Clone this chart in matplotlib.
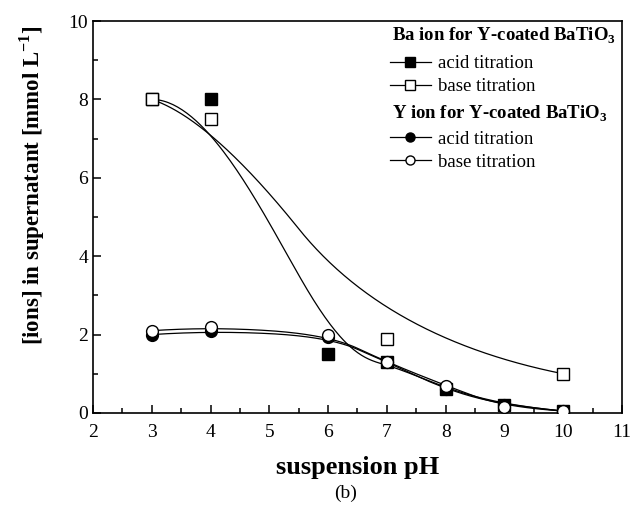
import numpy as np
import matplotlib
matplotlib.use("Agg")
import matplotlib.pyplot as plt
from matplotlib.lines import Line2D
from matplotlib.ticker import MultipleLocator

plt.rcParams['font.family'] = ['Liberation Serif', 'DejaVu Serif']
plt.rcParams['mathtext.fontset'] = 'custom'
plt.rcParams['mathtext.rm'] = 'Liberation Serif'
plt.rcParams['mathtext.bf'] = 'Liberation Serif:bold'

# --------------------- Data ---------------------
# some points sit hidden under the open markers of the other series
ph_ba_acid = [3, 4, 6, 7, 8, 9, 10]
ba_acid = [8.0, 8.0, 1.5, 1.3, 0.6, 0.2, 0.05]

ph_ba_base = [3, 4, 7, 10]
ba_base = [8.0, 7.5, 1.9, 1.0]

ph_y_acid = [3, 4, 6, 7, 8, 9, 10]
y_acid = [2.0, 2.1, 1.95, 1.3, 0.6, 0.2, 0.05]

ph_y_base = [3, 4, 6, 7, 8, 9, 10]
y_base = [2.1, 2.2, 2.0, 1.3, 0.7, 0.15, 0.05]

# degree of the B-spline connecting line of each series
spline_degree = {'ba_acid': 3, 'ba_base': 2, 'y_acid': 2, 'y_base': 2}


def bspline(px, py, degree=3, num=300):
    """Clamped uniform B-spline using the data points as control points."""
    P = np.column_stack([px, py])
    n = len(P)
    k = min(degree, n - 1)
    knots = np.concatenate([np.zeros(k + 1), np.arange(1, n - k),
                            np.full(k + 1, n - k)]).astype(float)
    t = np.linspace(0, n - k, num)
    t[-1] -= 1e-9
    B = np.zeros((num, len(knots) - 1))
    for i in range(len(knots) - 1):
        B[:, i] = (knots[i] <= t) & (t < knots[i + 1])
    for d in range(1, k + 1):
        Bn = np.zeros((num, len(knots) - 1 - d))
        for i in range(len(knots) - 1 - d):
            a = knots[i + d] - knots[i]
            b = knots[i + d + 1] - knots[i + 1]
            term = np.zeros(num)
            if a > 0:
                term += (t - knots[i]) / a * B[:, i]
            if b > 0:
                term += (knots[i + d + 1] - t) / b * B[:, i + 1]
            Bn[:, i] = term
        B = Bn
    c = B @ P
    return c[:, 0], c[:, 1]


# --------------------- Plotting ------------------------
fig = plt.figure(figsize=(6.39, 5.14), dpi=100)
ax = fig.add_axes([0.1455, 0.1965, 0.8279, 0.7626])

lw = 0.9
series = [('ba_acid', ph_ba_acid, ba_acid), ('ba_base', ph_ba_base, ba_base),
          ('y_acid', ph_y_acid, y_acid), ('y_base', ph_y_base, y_base)]
for name, px, py in series:
    cx, cy = bspline(px, py, spline_degree[name])
    ax.plot(cx, cy, color='black', lw=lw, zorder=2)

ax.plot(ph_ba_acid, ba_acid, ls='none', marker='s', ms=8, mfc='black', mec='black', zorder=3)
ax.plot(ph_ba_base, ba_base, ls='none', marker='s', ms=8, mfc='white', mec='black', mew=1, zorder=4)
ax.plot(ph_y_acid, y_acid, ls='none', marker='o', ms=8.5, mfc='black', mec='black', zorder=5)
ax.plot(ph_y_base, y_base, ls='none', marker='o', ms=8.5, mfc='white', mec='black', mew=1, zorder=6)

ax.set_xlim(2, 11)
ax.set_ylim(0, 10)
ax.xaxis.set_major_locator(MultipleLocator(1))
ax.xaxis.set_minor_locator(MultipleLocator(0.5))
ax.yaxis.set_major_locator(MultipleLocator(2))
ax.yaxis.set_minor_locator(MultipleLocator(1))
ax.tick_params(which='both', direction='in', top=False, right=False, labelsize=14, width=1.1)
ax.tick_params(which='major', length=6)
ax.tick_params(which='minor', length=3.5)
ax.tick_params(axis='x', pad=8)
for s in ax.spines.values():
    s.set_linewidth(1.2)

ax.set_xlabel('suspension pH', fontsize=19, fontweight='bold', labelpad=11)
ax.set_ylabel(r'[ions] in supernatant [mmol L$^{\mathbf{-1}}$]', fontsize=16.5,
              fontweight='bold')
ax.yaxis.set_label_coords(-0.087, 0.58)

# legends: bold headers as text, entries as two legends
def handle(marker, fill):
    return Line2D([], [], color='black', lw=lw, marker=marker, ms=6.5,
                  mfc=fill, mec='black')

hdr_kw = dict(transform=ax.transAxes, fontsize=13.5, fontweight='bold',
              ha='left', va='baseline')
ax.text(0.566, 0.9497, r'Ba ion for Y-coated BaTiO$_\mathbf{3}$', **hdr_kw)
ax.text(0.566, 0.752, r'Y ion for Y-coated BaTiO$_\mathbf{3}$', **hdr_kw)

leg_kw = dict(loc='upper left', frameon=False, fontsize=13.5, handlelength=2.2,
              handletextpad=0.35, labelspacing=0.325, borderpad=0, borderaxespad=0,
              numpoints=1)
leg1 = ax.legend([handle('s', 'black'), handle('s', 'white')],
                 ['acid titration', 'base titration'],
                 bbox_to_anchor=(0.561, 0.913), **leg_kw)
ax.add_artist(leg1)
ax.legend([handle('o', 'black'), handle('o', 'white')],
          ['acid titration', 'base titration'],
          bbox_to_anchor=(0.561, 0.721), **leg_kw)

fig.text(346 / 639, 1 - 493 / 514, '(b)', fontsize=14, ha='center', va='center')

fig.savefig('out.png', dpi=100)
